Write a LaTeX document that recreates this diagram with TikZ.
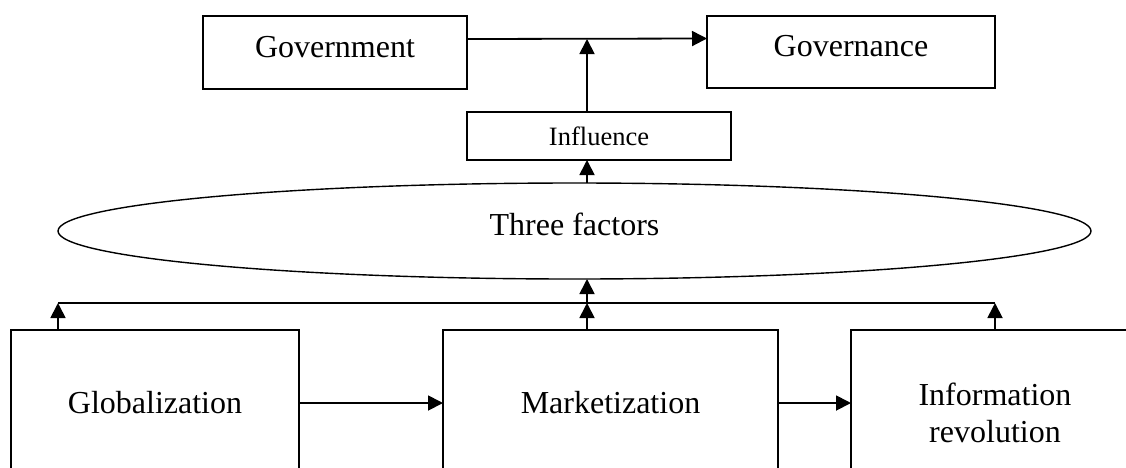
\documentclass[tikz,border=0pt]{standalone}
\usepackage{fontspec}
\setmainfont{Liberation Serif}
\usetikzlibrary{shapes.geometric, arrows.meta}
\tikzset{
	>={Triangle[length=15pt,width=15pt]}, % filled arrow heads
	every node/.style={inner sep=0pt, outer sep=0pt},
	box/.style={draw, rectangle, font=\fontsize{32}{37}\selectfont, align=center}, % the plain boxes
	topbox/.style={box, text height=22pt, text depth=13pt}, % text sits high in the top boxes
	smallbox/.style={draw, rectangle, font=\fontsize{26.5}{30}\selectfont},
	factor/.style={draw, ellipse, font=\fontsize{32}{37}\selectfont, text height=22pt, text depth=14pt},
}
\begin{document}
\begin{tikzpicture}[x=1pt, y=-1pt, line width=1.8pt]
	\useasboundingbox (0,0) rectangle (1126,467);
			\node[topbox, minimum width=264pt, minimum height=73pt] at (335,52.5) (govt) {Government};
			\node[topbox, minimum width=288pt, minimum height=72pt] at (851,52) (gvnc) {Governance};
			\node[smallbox, minimum width=264pt, minimum height=48pt] at (599,136) (infl) {Influence};
			\node[factor, line width=1.4pt, minimum width=1033pt, minimum height=96pt] at (574.5,231) (factors) {Three factors};
			\node[box, minimum width=288pt, minimum height=146pt] at (155,403) (glob) {Globalization};
			\node[box, minimum width=335pt, minimum height=146pt] at (610.5,403) (mark) {Marketization};
			\node[box, minimum width=288pt, minimum height=165pt] at (995,412.5) (info) {Information\\revolution};
			\coordinate (join) at (587,39);
			\coordinate (bar) at (587,303);
			\coordinate (gl) at (58,303);
			\coordinate (ir) at (995,303);
	\draw[->] ([yshift=13.5pt]govt.east) -- ([yshift=13.5pt]gvnc.west);
	\draw[->] (infl.north -| join) -- (join);
	\draw[->] (factors.north -| join) -- (infl.south -| join);
	\draw[->] (bar) -- (factors.south -| bar);
	\draw (gl) -- (ir);
	\draw[->] (glob.north -| gl) -- (gl);
	\draw[->] (mark.north -| bar) -- (bar);
	\draw[->] (info.north) -- (ir);
	\draw[->] (glob.east) -- (mark.west);
	\draw[->] (mark.east) -- (mark.east -| info.west);
	\end{tikzpicture}
\end{document}
